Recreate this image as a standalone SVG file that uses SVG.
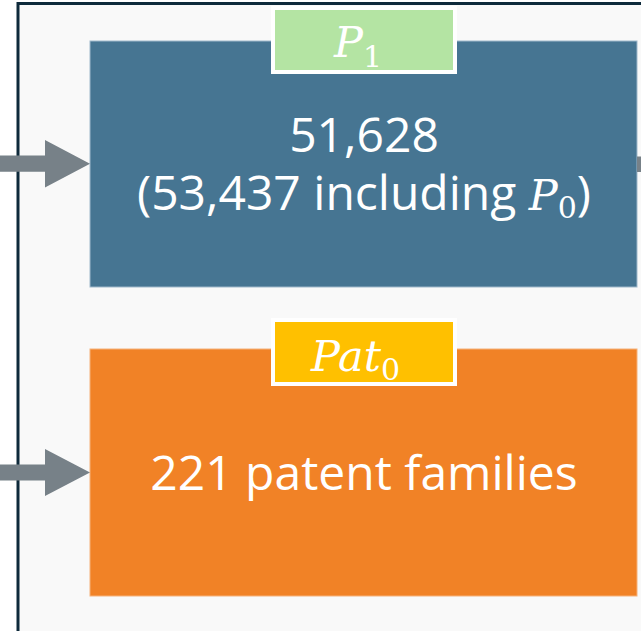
<svg xmlns="http://www.w3.org/2000/svg" width="641" height="631" viewBox="0 0 641 631">
<style>
.lbl{font-family:"Open Sans","Liberation Sans",sans-serif;font-size:48px;fill:#ffffff}
.math{font-family:"DejaVu Serif","Liberation Serif",serif;font-style:italic;fill:#ffffff}
.sub{font-family:"DejaVu Serif","Liberation Serif",serif;font-style:normal;font-size:30px;fill:#ffffff}
.arrow{fill:#778188}
</style>
<rect x="0" y="0" width="641" height="631" fill="#ffffff"/>
<rect id="frame" x="18" y="3.5" width="700" height="700" fill="#f9f9f9" stroke="#0e2a3b" stroke-width="3"/>
<g id="node-p1">
<rect x="90" y="41" width="547" height="246" fill="#467592" stroke="#9fb9cb" stroke-width="1"/>
<rect x="273" y="8" width="182" height="64" fill="#b4e4a3" stroke="#ffffff" stroke-width="4"/>
<text class="math" x="334" y="57" font-size="43">P<tspan class="sub" dy="10">1</tspan></text>
<text class="lbl" x="364" y="152" text-anchor="middle">51,628</text>
<text class="lbl" x="364" y="210" text-anchor="middle">(53,437 including <tspan class="math" font-size="43">P</tspan><tspan class="sub" dy="8">0</tspan><tspan dy="-8">)</tspan></text>
</g>
<g id="node-pat0">
<rect x="90" y="349" width="547" height="247" fill="#f18226" stroke="#f6b27a" stroke-width="1"/>
<rect x="273" y="320" width="182" height="64" fill="#ffc000" stroke="#ffffff" stroke-width="4"/>
<text class="math" x="311" y="371" font-size="43">Pat<tspan class="sub" dy="9">0</tspan></text>
<text class="lbl" x="364" y="490" text-anchor="middle">221 patent families</text>
</g>
<g id="connectors">
<polygon class="arrow" points="0,155.5 45,155.5 45,140 90,163.8 45,187.6 45,171.8 0,171.8"/>
<polygon class="arrow" points="0,464.5 45,464.5 45,449 90,472.5 45,496 45,480.5 0,480.5"/>
<rect class="arrow" x="637" y="156.5" width="10" height="15.5"/>
</g>
</svg>
